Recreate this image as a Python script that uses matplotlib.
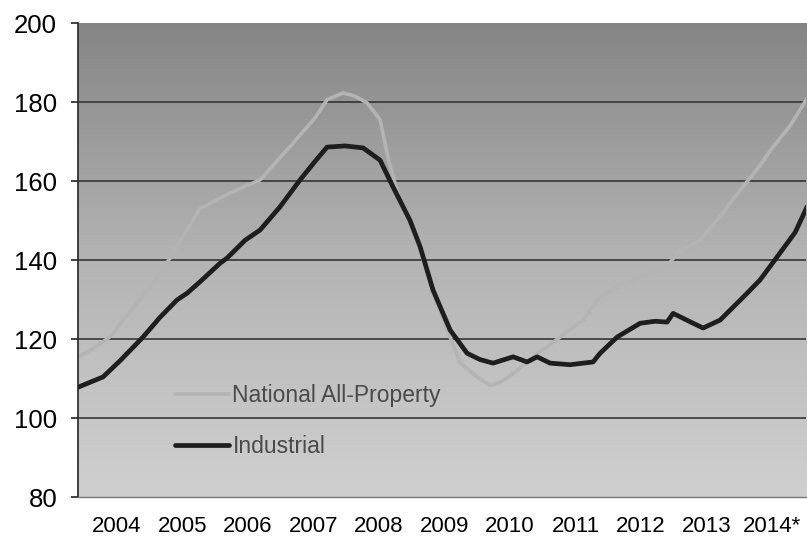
import numpy as np
import matplotlib
matplotlib.use("Agg")
import matplotlib.pyplot as plt
from matplotlib.colors import LinearSegmentedColormap

plt.rcParams["font.family"] = ["Liberation Sans", "DejaVu Sans"]

# index values (x = decimal year, label sits at year + 0.5)
ind_x = [2003.905, 2004.286, 2004.546, 2004.897, 2005.156, 2005.416, 2005.569, 2005.767,
         2006.073, 2006.179, 2006.454, 2006.683, 2006.989, 2007.294, 2007.523, 2007.706,
         2007.981, 2008.256, 2008.515, 2008.714, 2008.973, 2009.126, 2009.324, 2009.584,
         2009.844, 2010.042, 2010.240, 2010.546, 2010.760, 2010.912, 2011.111, 2011.416,
         2011.767, 2011.874, 2012.134, 2012.485, 2012.714, 2012.897, 2012.989, 2013.294,
         2013.447, 2013.706, 2014.118, 2014.317, 2014.576, 2014.851, 2015.034]
industrial = [107.8, 110.4, 114.5, 120.5, 125.5, 129.9, 131.6, 134.5,
              139.2, 140.5, 145.0, 147.6, 153.5, 160.3, 165.0, 168.6,
              168.9, 168.4, 165.3, 158.5, 150.0, 143.4, 132.4, 122.3,
              116.4, 114.8, 113.9, 115.5, 114.2, 115.5, 113.9, 113.5,
              114.2, 116.4, 120.5, 124.0, 124.5, 124.3, 126.5, 124.0,
              122.8, 124.8, 131.6, 135.0, 140.8, 147.0, 153.5]

nat_x = [2003.905, 2004.088, 2004.393, 2004.805, 2005.080, 2005.309, 2005.660, 2005.767,
         2006.225, 2006.683, 2007.187, 2007.523, 2007.706, 2007.950, 2008.133, 2008.317,
         2008.515, 2008.650, 2008.821, 2008.973, 2009.126, 2009.324, 2009.584, 2009.737,
         2009.996, 2010.195, 2010.347, 2010.607, 2010.851, 2011.263, 2011.614, 2011.874,
         2012.134, 2012.485, 2012.897, 2013.050, 2013.401, 2013.752, 2013.859, 2014.317,
         2014.515, 2014.775, 2015.034]
national = [115.5, 117.0, 120.6, 129.1, 135.0, 140.5, 150.1, 153.0,
            157.0, 160.3, 169.6, 176.0, 180.6, 182.3, 181.5, 179.8,
            175.5, 165.0, 155.0, 149.5, 142.8, 131.5, 120.5, 114.0,
            110.4, 108.3, 109.0, 112.0, 115.5, 120.5, 124.8, 130.7,
            133.2, 135.7, 138.3, 141.8, 145.1, 151.9, 154.5, 164.0,
            168.7, 174.0, 181.0]

years = ["2004", "2005", "2006", "2007", "2008", "2009", "2010", "2011", "2012", "2013", "2014*"]
yticks = [80, 100, 120, 140, 160, 180, 200]

fig = plt.figure(figsize=(8.07, 5.4), dpi=100)
ax = fig.add_axes([0.0967, 0.0796, 0.9023, 0.8776])

# gradient background, dark at top, light at bottom
cmap = LinearSegmentedColormap.from_list("bg", ["#d0d0d0", "#b4b4b4", "#858585"])
grad = np.linspace(0, 1, 256).reshape(-1, 1)
ax.imshow(grad, cmap=cmap, aspect="auto", extent=[0, 1, 0, 1],
          transform=ax.transAxes, origin="lower", zorder=0)

for v in yticks[1:-1]:
    ax.axhline(v, color="#2a2a2a", lw=1.1, zorder=1)

ax.plot(nat_x, national, color="#b4b4b4", lw=2.6, zorder=2,
        solid_capstyle="round", label="National All-Property")
ax.plot(ind_x, industrial, color="#1e1e1e", lw=3.4, zorder=3,
        solid_capstyle="round", label="Industrial")

ax.set_xlim(2003.905, 2015.02)
ax.set_ylim(80, 200)
ax.set_yticks(yticks)
ax.set_yticklabels([str(v) for v in yticks], fontsize=18.5)
ax.set_xticks([int(y[:4]) + 0.5 for y in years])
ax.set_xticklabels(years, fontsize=16)
ax.tick_params(axis="x", length=0, pad=14)
ax.tick_params(axis="y", length=5, width=1.2, color="#222", pad=10)

for s in ["top", "right"]:
    ax.spines[s].set_visible(False)
ax.spines["left"].set_color("#333")
ax.spines["left"].set_linewidth(1.3)
ax.spines["bottom"].set_color("#777")
ax.spines["bottom"].set_linewidth(1.0)
ax.spines["bottom"].set_linestyle((0, (1, 1)))

leg = ax.legend(loc="upper left", bbox_to_anchor=(0.105, 0.283), frameon=False,
                fontsize=16.5, handlelength=2.35, handletextpad=0.15,
                labelspacing=1.25)
for t in leg.get_texts():
    t.set_color("#4a4a4a")

fig.savefig("out.png", dpi=100)
